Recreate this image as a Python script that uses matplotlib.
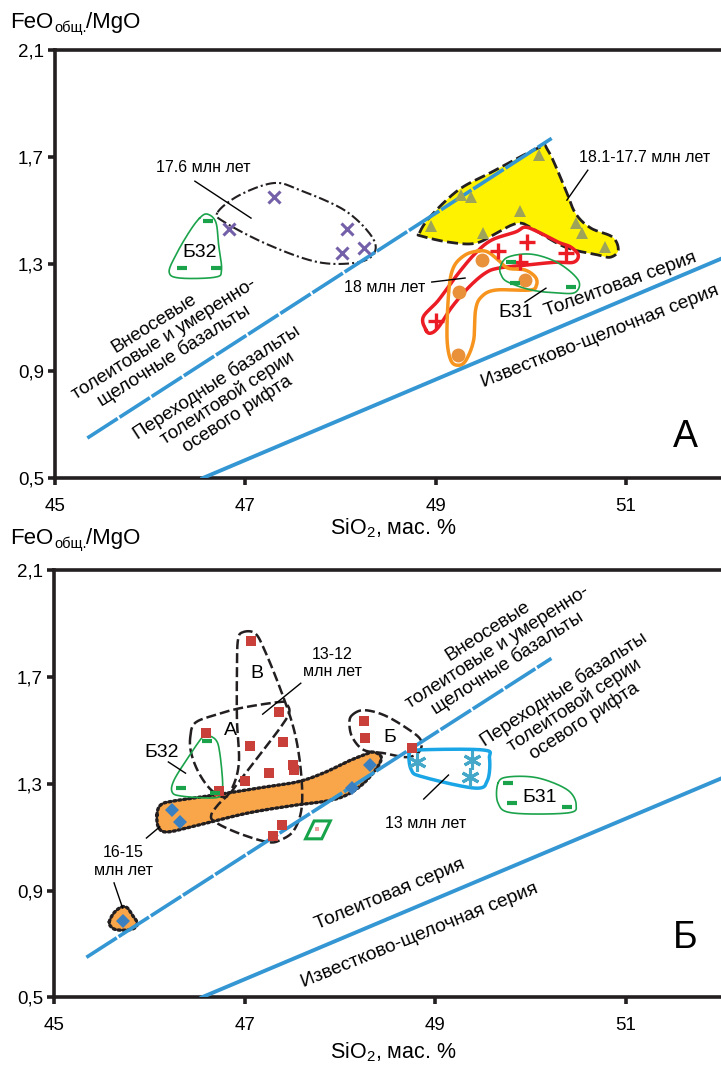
import numpy as np
import matplotlib
matplotlib.use('Agg')
import matplotlib.pyplot as plt
from matplotlib.patches import Polygon

plt.rcParams['font.family'] = ['Liberation Sans', 'DejaVu Sans']
plt.rcParams['mathtext.fontset'] = 'custom'
plt.rcParams['mathtext.rm'] = 'Liberation Sans'

# --- boundary lines (same on both panels)
bound_dash_x = [45.34, 50.22]
bound_dash_y = [0.65, 1.77]
bound_solid_x = [46.55, 52.0]
bound_solid_y = [0.50, 1.32]

xticks = [45, 47, 49, 51]
yticks = [0.5, 0.9, 1.3, 1.7, 2.1]
ytick_labels = ['0,5', '0,9', '1,3', '1,7', '2,1']

# --- panel A data
a_x176 = [46.83, 47.30, 48.07, 48.02, 48.25]
a_y176 = [1.43, 1.55, 1.43, 1.34, 1.36]
a_env176_x = [46.71, 46.94, 47.30, 47.57, 48.04, 48.32, 48.36, 48.19, 47.77, 47.25, 46.78]
a_env176_y = [1.494, 1.558, 1.603, 1.577, 1.502, 1.408, 1.345, 1.307, 1.307, 1.371, 1.457]

a_xtri = [50.09, 49.27, 49.37, 49.89, 48.95, 49.50, 50.48, 50.54, 50.78]
a_ytri = [1.707, 1.558, 1.551, 1.498, 1.442, 1.416, 1.453, 1.416, 1.364]
a_yel_x = [48.83, 48.94, 49.24, 49.59, 50.08, 50.18, 50.36, 50.47, 50.63, 50.86, 50.92,
           50.84, 50.71, 50.36, 50.01, 49.90, 49.80, 49.66, 49.42, 49.14, 48.85]
a_yel_y = [1.416, 1.476, 1.577, 1.644, 1.734, 1.726, 1.584, 1.490, 1.435, 1.401, 1.352,
           1.326, 1.334, 1.364, 1.435, 1.453, 1.446, 1.420, 1.378, 1.382, 1.405]

a_xplus = [49.66, 49.96, 49.89, 50.37, 49.00]
a_yplus = [1.349, 1.382, 1.307, 1.341, 1.087]
a_red_x = [48.90, 48.87, 49.03, 49.24, 49.42, 49.59, 49.84, 49.94, 50.08, 50.29, 50.42,
           50.50, 50.45, 50.26, 49.94, 49.66, 49.52, 49.35, 49.17, 49.03, 48.95]
a_red_y = [1.053, 1.102, 1.165, 1.266, 1.341, 1.390, 1.420, 1.438, 1.420, 1.382, 1.364,
           1.334, 1.307, 1.307, 1.296, 1.285, 1.266, 1.214, 1.139, 1.064, 1.042]

a_xcirc = [49.49, 49.94, 49.25, 49.24]
a_ycirc = [1.315, 1.240, 1.195, 0.960]
a_org_x = [49.45, 49.55, 49.66, 49.76, 49.94, 50.05, 50.06, 49.99, 49.63, 49.48, 49.42,
           49.40, 49.32, 49.24, 49.16, 49.12, 49.14, 49.19, 49.31]
a_org_y = [1.349, 1.345, 1.315, 1.285, 1.278, 1.251, 1.221, 1.203, 1.203, 1.177, 1.128,
           1.016, 0.941, 0.922, 0.941, 1.027, 1.203, 1.289, 1.334]

a_b31_x = [49.68, 49.76, 50.01, 50.29, 50.50, 50.47, 50.29, 50.01, 49.76, 49.69]
a_b31_y = [1.289, 1.326, 1.337, 1.304, 1.240, 1.195, 1.192, 1.203, 1.233, 1.259]
a_b31_px = [49.79, 49.84, 50.42]
a_b31_py = [1.307, 1.229, 1.214]
a_b32_x = [46.52, 46.60, 46.69, 46.72, 46.75, 46.68, 46.31, 46.20, 46.27, 46.41]
a_b32_y = [1.472, 1.487, 1.457, 1.371, 1.278, 1.251, 1.248, 1.270, 1.334, 1.420]
a_b32_px = [46.61, 46.33, 46.69]
a_b32_py = [1.46, 1.285, 1.285]

# --- panel B data
b_xsq = [47.07, 47.36, 46.59, 47.06, 47.40, 47.51, 47.52, 47.26, 47.00, 46.73, 47.39, 47.30,
         48.25, 48.26, 48.76]
b_ysq = [1.834, 1.569, 1.490, 1.442, 1.457, 1.370, 1.350, 1.341, 1.311, 1.273, 1.146, 1.105,
         1.535, 1.471, 1.434]
b_envV_x = [46.98, 47.11, 47.21, 47.38, 47.52, 47.59, 47.60, 47.52, 47.38, 47.24, 46.93,
            46.69, 46.65, 46.72, 46.86, 46.94, 46.92, 46.92, 46.93]
b_envV_y = [1.868, 1.864, 1.801, 1.651, 1.501, 1.352, 1.213, 1.127, 1.090, 1.082, 1.116,
            1.157, 1.183, 1.221, 1.277, 1.378, 1.539, 1.726, 1.838]
b_envA_x = [46.43, 46.48, 46.69, 46.96, 47.35, 47.43, 47.47, 47.38, 47.14, 46.93, 46.80,
            46.65, 46.52, 46.44]
b_envA_y = [1.475, 1.528, 1.558, 1.584, 1.606, 1.602, 1.569, 1.513, 1.400, 1.303, 1.251,
            1.277, 1.341, 1.415]
b_envB_x = [48.13, 48.25, 48.46, 48.70, 48.85, 48.83, 48.70, 48.46, 48.25, 48.13, 48.10]
b_envB_y = [1.558, 1.576, 1.558, 1.509, 1.464, 1.419, 1.400, 1.415, 1.427, 1.475, 1.528]

b_xdia = [46.24, 46.32, 45.72, 48.13, 48.32]
b_ydia = [1.202, 1.157, 0.787, 1.284, 1.370]
b_band_x = [46.08, 46.12, 46.26, 46.69, 47.14, 47.55, 47.83, 48.07, 48.25, 48.35, 48.43,
            48.42, 48.35, 48.23, 48.07, 47.87, 47.55, 47.04, 46.52, 46.20, 46.10]
b_band_y = [1.183, 1.221, 1.236, 1.258, 1.284, 1.307, 1.341, 1.382, 1.408, 1.419, 1.404,
            1.378, 1.341, 1.296, 1.258, 1.236, 1.221, 1.191, 1.146, 1.120, 1.135]
b_blob_x = [45.58, 45.63, 45.71, 45.77, 45.82, 45.87, 45.86, 45.79, 45.66, 45.60]
b_blob_y = [0.783, 0.817, 0.839, 0.835, 0.809, 0.783, 0.764, 0.753, 0.753, 0.764]

b_xast = [48.81, 49.39, 49.37]
b_yast = [1.382, 1.389, 1.326]
b_cyan_x = [48.73, 48.82, 49.50, 49.57, 49.55, 49.42, 48.87, 48.75]
b_cyan_y = [1.415, 1.427, 1.427, 1.397, 1.314, 1.284, 1.326, 1.352]

b_b31_x = [49.66, 49.77, 50.08, 50.39, 50.48, 50.39, 49.81, 49.66]
b_b31_y = [1.303, 1.326, 1.322, 1.277, 1.221, 1.191, 1.191, 1.228]
b_b31_px = [49.76, 49.81, 50.38]
b_b31_py = [1.303, 1.228, 1.213]
b_b32_x = [46.60, 46.70, 46.74, 46.77, 46.75, 46.65, 46.34, 46.24, 46.26, 46.41, 46.55]
b_b32_y = [1.483, 1.464, 1.415, 1.303, 1.258, 1.247, 1.254, 1.269, 1.314, 1.400, 1.472]
b_b32_px = [46.61, 46.33, 46.69]
b_b32_py = [1.46, 1.284, 1.266]
b_rhomb_x = [47.64, 47.81, 47.90, 47.73]
b_rhomb_y = [1.094, 1.094, 1.161, 1.161]

BLUE = '#3497d3'
GREEN = '#1ba34b'


def closed_curve(xs, ys, n=24):
    # periodic Catmull-Rom through the outline points
    p = np.column_stack([xs, ys])
    m = len(p)
    t = np.linspace(0, 1, n, endpoint=False)[:, None]
    out = []
    for i in range(m):
        p0, p1, p2, p3 = p[i - 1], p[i], p[(i + 1) % m], p[(i + 2) % m]
        out.append(0.5 * (2 * p1 + (-p0 + p2) * t + (2 * p0 - 5 * p1 + 4 * p2 - p3) * t ** 2
                          + (-p0 + 3 * p1 - 3 * p2 + p3) * t ** 3))
    out = np.vstack(out)
    return np.vstack([out, out[:1]])


def envelope(ax, xs, ys, color='k', lw=2, ls='-', fill=None, z=3):
    c = closed_curve(xs, ys)
    if fill is not None:
        ax.add_patch(Polygon(c, closed=True, facecolor=fill, edgecolor='none', zorder=z - 1))
    line, = ax.plot(c[:, 0], c[:, 1], color=color, lw=lw, zorder=z)
    if ls == 'dash':
        line.set_dashes((4, 1.6))
    elif ls == 'dashdot':
        line.set_dashes((5, 1.5, 1, 1.5))
    elif ls == 'dot':
        line.set_dashes((0.6, 0.9))
        line.set_dash_capstyle('round')


def setup(ax):
    ax.set_xlim(45, 52)
    ax.set_ylim(0.5, 2.1)
    ax.set_xticks(xticks, [str(v) for v in xticks])
    ax.set_yticks(yticks, ytick_labels)
    for s in ['left', 'bottom', 'top']:
        ax.spines[s].set_linewidth(2.6)
        ax.spines[s].set_color('#231f20')
    ax.spines['right'].set_visible(False)
    ax.tick_params(direction='out', length=5, width=2.6, color='#231f20', pad=3,
                   labelsize=13.5)
    ax.tick_params(axis='x', pad=9)
    d, = ax.plot(bound_dash_x, bound_dash_y, color=BLUE, lw=2.6, zorder=4,
                 solid_capstyle='butt')
    d.set_dashes((10, 0.6))
    ax.plot(bound_solid_x, bound_solid_y, color=BLUE, lw=2.8, zorder=4)


def leader(ax, xs, ys):
    ax.plot(xs, ys, color='k', lw=1, zorder=6)


def ylabel(ax, yfig):
    # FeO + small "общ." subscript + /MgO, chained one after another
    t1 = ax.figure.text(0.014, yfig, 'FeO', fontsize=16, ha='left', va='baseline')
    t2 = ax.annotate('общ.', xy=(1, 0), xycoords=t1, xytext=(0.5, -1.5),
                     textcoords='offset points', fontsize=10.5, ha='left', va='bottom',
                     annotation_clip=False)
    ax.annotate('/MgO', xy=(1, 0), xycoords=(t2, t1), xytext=(-0.5, 0),
                textcoords='offset points', fontsize=16, ha='left', va='bottom',
                annotation_clip=False)


fig = plt.figure(figsize=(7.21, 10.65), dpi=100)
ax1 = fig.add_axes([0.0763, 0.551, 0.9237, 0.402])
ax2 = fig.add_axes([0.0749, 0.0635, 0.9251, 0.401])
setup(ax1)
setup(ax2)

# ---------------- panel A
envelope(ax1, a_yel_x, a_yel_y, color='#231f20', lw=2, ls='dash', fill='#fff200', z=2)
envelope(ax1, a_env176_x, a_env176_y, color='#231f20', lw=1.5, ls='dashdot')
envelope(ax1, a_red_x, a_red_y, color='#ec1c24', lw=2.5)
envelope(ax1, a_org_x, a_org_y, color='#f7941d', lw=2.5)
envelope(ax1, a_b31_x, a_b31_y, color=GREEN, lw=1.2)
envelope(ax1, a_b32_x, a_b32_y, color=GREEN, lw=1.2)

ax1.plot(a_x176, a_y176, 'x', color='#7460a8', ms=9, mew=2.2, zorder=7)
ax1.plot(a_xtri, a_ytri, '^', color='#9ea35a', ms=8, mew=0, zorder=7)
ax1.plot(a_xplus, a_yplus, '+', color='#ec1c24', ms=11, mew=2.4, zorder=7)
ax1.plot(a_xcirc, a_ycirc, 'o', color='#e8903a', ms=10, mew=0, zorder=7)
ax1.plot(a_b31_px, a_b31_py, '_', color=GREEN, ms=7, mew=3, zorder=7)
ax1.plot(a_b32_px, a_b32_py, '_', color=GREEN, ms=7, mew=3, zorder=7)

ax1.text(46.56, 1.66, '17.6 млн лет', fontsize=11.5, ha='center', va='center')
leader(ax1, [46.47, 47.06], [1.61, 1.472])
ax1.text(51.20, 1.70, '18.1-17.7 млн лет', fontsize=11.5, ha='center', va='center')
leader(ax1, [50.60, 50.38], [1.651, 1.539])
ax1.text(48.46, 1.214, '18 млн лет', fontsize=11.5, ha='center', va='center')
leader(ax1, [48.96, 49.31], [1.233, 1.248])
ax1.text(49.84, 1.121, 'Б31', fontsize=14, ha='center', va='center')
leader(ax1, [49.94, 50.16], [1.158, 1.21])
ax1.text(46.52, 1.345, 'Б32', fontsize=14, ha='center', va='center')

ax1.text(46.15, 1.016, 'Внеосевые\nтолеитовые и умеренно-\nщелочные базальты',
         fontsize=13.5, rotation=32, ha='center', va='center', multialignment='center',
         rotation_mode='anchor', linespacing=1.1)
ax1.text(46.81, 0.80, 'Переходные базальты\nтолеитовой серии\nосевого рифта',
         fontsize=13.5, rotation=33, ha='center', va='center', multialignment='center',
         rotation_mode='anchor', linespacing=1.1)
ax1.text(50.94, 1.222, 'Толеитовая серия', fontsize=13.8, rotation=20,
         ha='center', va='center', rotation_mode='anchor')
ax1.text(50.73, 1.03, 'Известково-щелочная серия', fontsize=13.8, rotation=21.5,
         ha='center', va='center', rotation_mode='anchor')
ax1.text(51.63, 0.653, 'А', fontsize=27, ha='center', va='center')

# ---------------- panel B
envelope(ax2, b_band_x, b_band_y, color='#231f20', lw=2.4, ls='dot', fill='#f9a54a', z=2)
envelope(ax2, b_blob_x, b_blob_y, color='#231f20', lw=2.4, ls='dot', fill='#f9a54a', z=2)
envelope(ax2, b_envV_x, b_envV_y, color='#231f20', lw=1.8, ls='dash')
envelope(ax2, b_envA_x, b_envA_y, color='#231f20', lw=1.8, ls='dash')
envelope(ax2, b_envB_x, b_envB_y, color='#231f20', lw=1.8, ls='dash')
envelope(ax2, b_cyan_x, b_cyan_y, color='#1aa6e6', lw=2.5)
envelope(ax2, b_b31_x, b_b31_y, color=GREEN, lw=1.2)
envelope(ax2, b_b32_x, b_b32_y, color=GREEN, lw=1.2)
ax2.add_patch(Polygon(np.column_stack([b_rhomb_x, b_rhomb_y]), closed=True,
                      facecolor='none', edgecolor='#16a34a', lw=2.2, zorder=5))
ax2.plot([47.76], [1.131], 's', color='#f2a0a0', ms=3, mew=0, zorder=6)

ax2.plot(b_xsq, b_ysq, 's', color='#c9403a', ms=7.5, mew=0, zorder=7)
ax2.plot(b_xdia, b_ydia, 'D', color='#3a80c1', ms=7, mew=0, zorder=7)
ax2.plot(b_xast, b_yast, marker=(6, 2, 0), ls='none', color='#45a8c8', ms=13, mew=2.2, zorder=7)
ax2.plot(b_b31_px, b_b31_py, '_', color=GREEN, ms=7, mew=3, zorder=7)
ax2.plot(b_b32_px, b_b32_py, '_', color=GREEN, ms=7, mew=3, zorder=7)

ax2.text(47.92, 1.752, '13-12\nмлн лет', fontsize=11.5, ha='center', va='center',
         linespacing=1.2)
leader(ax2, [47.59, 47.19], [1.677, 1.561])
ax2.text(46.85, 1.50, 'А', fontsize=14, ha='center', va='center')
ax2.text(47.13, 1.715, 'В', fontsize=14, ha='center', va='center')
ax2.text(48.52, 1.475, 'Б', fontsize=14, ha='center', va='center')
ax2.text(46.13, 1.419, 'Б32', fontsize=14, ha='center', va='center')
leader(ax2, [46.20, 46.38], [1.382, 1.34])
ax2.text(50.10, 1.247, 'Б31', fontsize=14, ha='center', va='center')
ax2.text(48.90, 1.15, '13 млн лет', fontsize=11.5, ha='center', va='center')
leader(ax2, [48.88, 49.14], [1.243, 1.333])
ax2.text(45.73, 1.008, '16-15\nмлн лет', fontsize=11.5, ha='center', va='center',
         linespacing=1.25)
leader(ax2, [45.63, 45.72], [0.929, 0.835])
leader(ax2, [45.97, 46.11], [1.097, 1.139])

ax2.text(49.66, 1.81, 'Внеосевые\nтолеитовые и умеренно-\nщелочные базальты',
         fontsize=13.5, rotation=32.5, ha='center', va='center', multialignment='center',
         rotation_mode='anchor', linespacing=1.1)
ax2.text(50.46, 1.595, 'Переходные базальты\nтолеитовой серии\nосевого рифта',
         fontsize=13.5, rotation=33, ha='center', va='center', multialignment='center',
         rotation_mode='anchor', linespacing=1.1)
ax2.text(48.53, 0.884, 'Толеитовая серия', fontsize=13.8, rotation=22.5,
         ha='center', va='center', rotation_mode='anchor')
ax2.text(48.84, 0.731, 'Известково-щелочная серия', fontsize=13.8, rotation=22,
         ha='center', va='center', rotation_mode='anchor')
ax2.text(51.62, 0.723, 'Б', fontsize=27, ha='center', va='center')

# axis titles
ylabel(ax1, 0.974)
ylabel(ax2, 0.489)
for yy in [0.504, 0.012]:
    fig.text(0.545, yy, r'SiO$_{\mathregular{2}}$, мас. %', fontsize=15.5, ha='center',
             va='center')

fig.savefig('out.png', dpi=100)
